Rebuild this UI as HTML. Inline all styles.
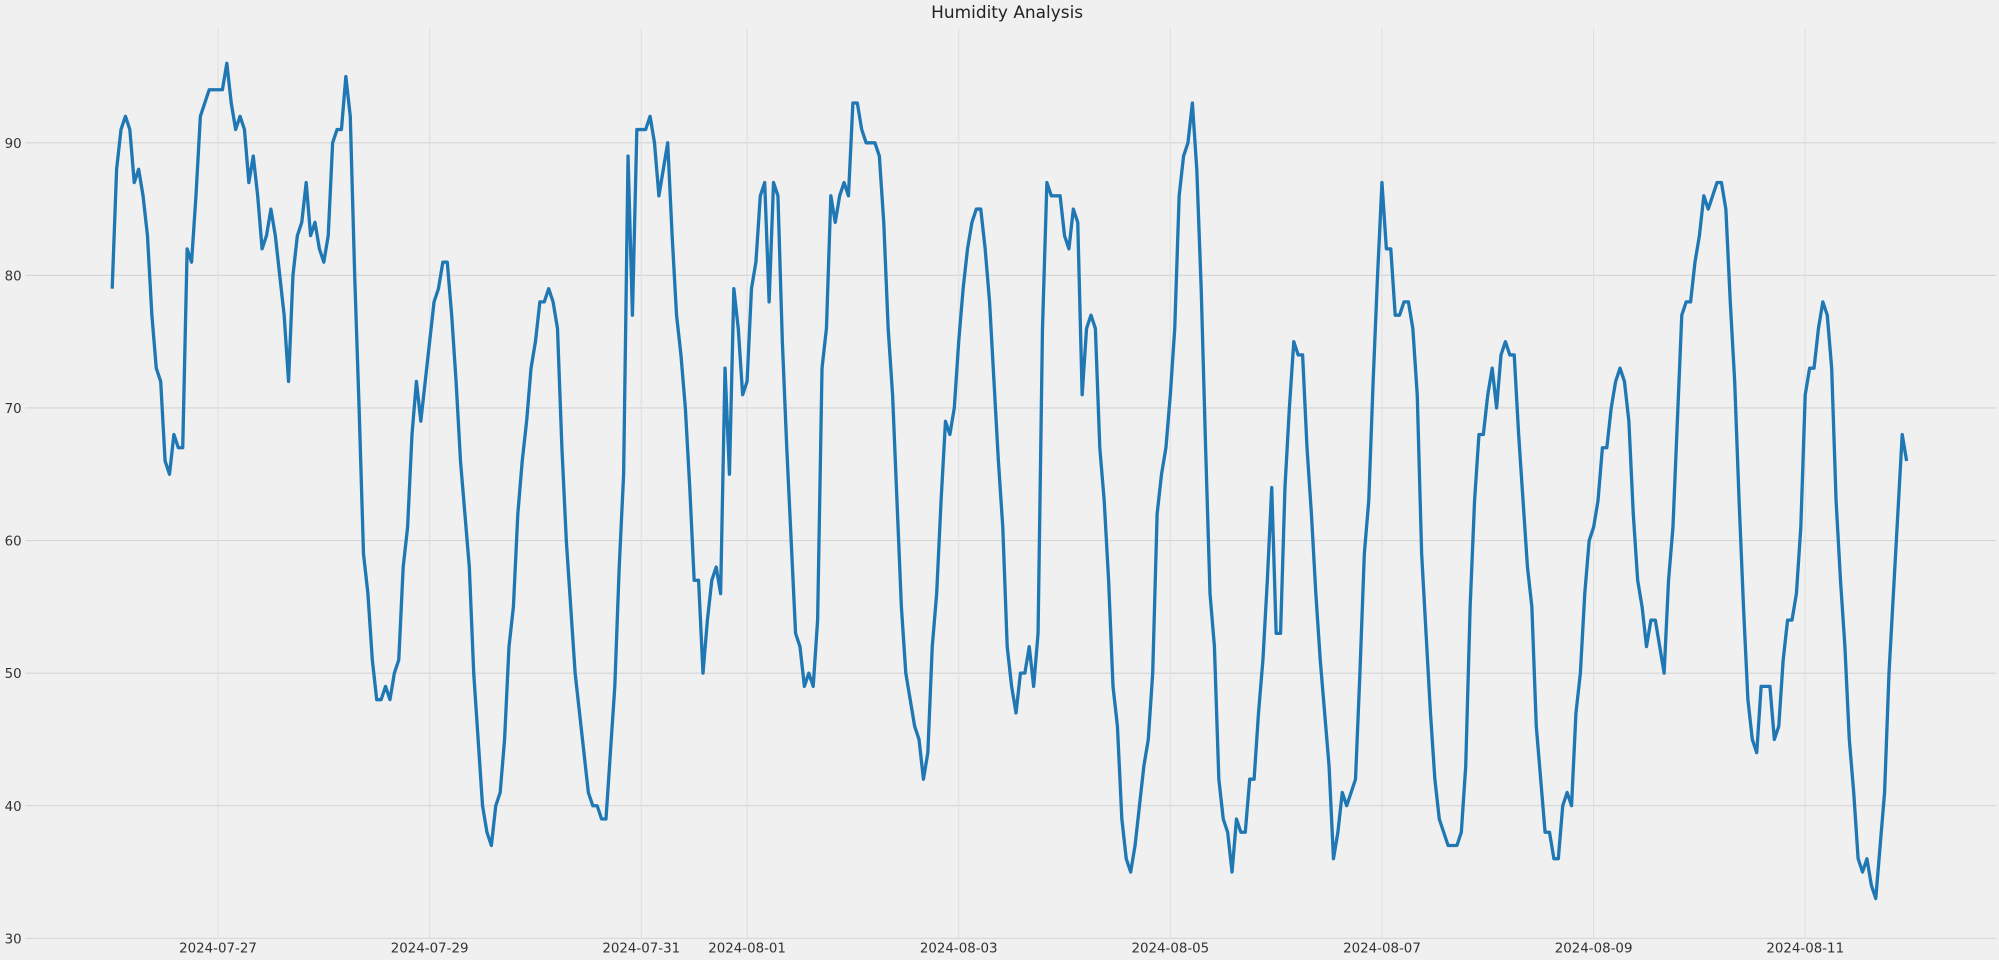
<!DOCTYPE html>
<html><head><meta charset="utf-8"><style>
html,body{margin:0;padding:0;background:#f0f0f0;}
svg{display:block;font-family:"DejaVu Sans","Liberation Sans",sans-serif;}
</style></head><body>
<svg id="chart" width="1999" height="960" viewBox="0 0 1568 753" xmlns="http://www.w3.org/2000/svg">
<rect x="0" y="0" width="1568" height="753" fill="#f0f0f0"/>
<text x="790" y="14" font-size="13.3" text-anchor="middle" fill="#222">Humidity Analysis</text>
<g id="grid"></g>
<g id="ticks"></g>
<path id="line" fill="none" stroke="#1f77b4" stroke-width="2.6" stroke-linejoin="round"/>
</svg>
<script>
const yTicks = [30,40,50,60,70,80,90];
const xTickDays = [1,3,5,6,8,10,12,14,16];
const xTickLabels = ["2024-07-27","2024-07-29","2024-07-31","2024-08-01","2024-08-03","2024-08-05","2024-08-07","2024-08-09","2024-08-11"];
const humidity = [
79,88,91,92,91,87,88,86,83,77,73,72,66,65,68,67,67,82,81,86,92,93,94,94,
94,94,96,93,91,92,91,87,89,86,82,83,85,83,80,77,72,80,83,84,87,83,84,82,
81,83,90,91,91,95,92,80,70,59,56,51,48,48,49,48,50,51,58,61,68,72,69,72,
75,78,79,81,81,77,72,66,62,58,50,45,40,38,37,40,41,45,52,55,62,66,69,73,
75,78,78,79,78,76,67,60,55,50,47,44,41,40,40,39,39,44,49,58,65,89,77,91,
91,91,92,90,86,88,90,83,77,74,70,64,57,57,50,54,57,58,56,73,65,79,76,71,
72,79,81,86,87,78,87,86,75,67,60,53,52,49,50,49,54,73,76,86,84,86,87,86,
93,93,91,90,90,90,89,84,76,71,63,55,50,48,46,45,42,44,52,56,63,69,68,70,
75,79,82,84,85,85,82,78,72,66,61,52,49,47,50,50,52,49,53,76,87,86,86,86,
83,82,85,84,71,76,77,76,67,63,57,49,46,39,36,35,37,40,43,45,50,62,65,67,
71,76,86,89,90,93,88,79,67,56,52,42,39,38,35,39,38,38,42,42,47,51,57,64,
53,53,64,70,75,74,74,67,62,56,51,47,43,36,38,41,40,41,42,50,59,63,72,80,
87,82,82,77,77,78,78,76,71,59,53,47,42,39,38,37,37,37,38,43,55,63,68,68,
71,73,70,74,75,74,74,68,63,58,55,46,42,38,38,36,36,40,41,40,47,50,56,60,
61,63,67,67,70,72,73,72,69,62,57,55,52,54,54,52,50,57,61,69,77,78,78,81,
83,86,85,86,87,87,85,78,72,63,55,48,45,44,49,49,49,45,46,51,54,54,56,61,
71,73,73,76,78,77,73,63,57,52,45,41,36,35,36,34,33,37,41,50,56,62,68,66
];
const NS="http://www.w3.org/2000/svg";
const X0=88, DAYPX=83, LEFT=20, RIGHT=1566, TOP=22;
function xHour(h){return X0 + h*DAYPX/24;}
function xDay(d){return X0 + d*DAYPX;}
function yVal(v){return 736 - (v-30)*10.4;}
const grid=document.getElementById('grid'), ticks=document.getElementById('ticks');
yTicks.forEach(v=>{
  const l=document.createElementNS(NS,'line');
  
  
  l.setAttribute('x1',LEFT);l.setAttribute('x2',RIGHT);l.setAttribute('y1',yVal(v));l.setAttribute('y2',yVal(v));
  l.setAttribute('stroke','#d6d6d6');l.setAttribute('stroke-width','0.9');
  grid.appendChild(l);
  const t=document.createElementNS(NS,'text');
  
  
  t.setAttribute('x',17);t.setAttribute('y',yVal(v)+4);t.setAttribute('font-size','10.5');
  t.setAttribute('text-anchor','end');t.setAttribute('fill','#333');t.textContent=v;
  ticks.appendChild(t);
});
xTickDays.forEach((d,i)=>{
  const l=document.createElementNS(NS,'line');
  
  
  l.setAttribute('x1',xDay(d));l.setAttribute('x2',xDay(d));l.setAttribute('y1',TOP);l.setAttribute('y2',736);
  l.setAttribute('stroke','#e0e0e0');l.setAttribute('stroke-width','0.9');
  grid.appendChild(l);
  const t=document.createElementNS(NS,'text');
  
  
  t.setAttribute('x',xDay(d));t.setAttribute('y',747);t.setAttribute('font-size','10.5');
  t.setAttribute('text-anchor','middle');t.setAttribute('fill','#333');t.textContent=xTickLabels[i];
  ticks.appendChild(t);
});
document.getElementById('line').setAttribute('d',humidity.map((v,i)=>(i?'L':'M')+xHour(i).toFixed(2)+','+yVal(v).toFixed(2)).join(''));
</script>
</body></html>
